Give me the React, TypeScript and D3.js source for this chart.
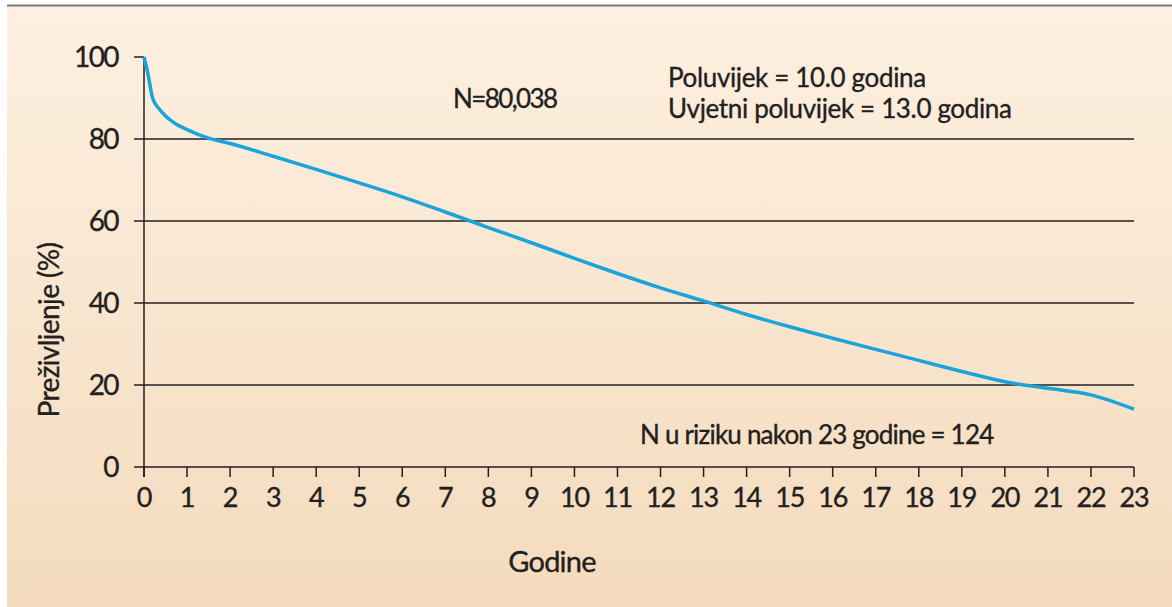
import React from 'react';
import { scaleLinear, line, curveMonotoneX, range } from 'd3';

// survival curve
const years = [0, 0.08, 0.2, 0.35, 0.5, 0.75, 1, 1.5, 2, 3, 4, 5, 6, 7, 8, 9, 10, 11, 12, 13, 14, 15, 16, 17, 18, 19, 20, 21, 22, 23];
const survival = [100, 96.5, 90, 87.4, 85.6, 83.6, 82.3, 80.2, 78.9, 75.8, 72.6, 69.3, 65.9, 62.2, 58.4, 54.7, 50.9, 47.2, 43.7, 40.5, 37.2, 34.2, 31.4, 28.7, 26.0, 23.3, 20.8, 19.2, 17.6, 14.1];

const yTicks = [0, 20, 40, 60, 80, 100];
const xTicks = range(0, 24);

const notes = ['Poluvijek = 10.0 godina', 'Uvjetni poluvijek = 13.0 godina'];
const sampleNote = 'N=80,038';
const riskNote = 'N u riziku nakon 23 godine = 124';

const W = 1172;
const H = 607;
const dims = { left: 144, right: 1134, top: 57, bottom: 467 };
const font = 'Lato, "Open Sans", sans-serif';
const ink = '#231f20';
const txt = { fontFamily: font, fill: ink, stroke: ink, strokeWidth: 0.35 };

export default function App() {
  const x = scaleLinear().domain([0, 23]).range([dims.left, dims.right]);
  const y = scaleLinear().domain([0, 100]).range([dims.bottom, dims.top]);

  const pts = years.map((t, i) => [t, survival[i]] as [number, number]);
  const path = line<[number, number]>()
    .x(d => x(d[0]))
    .y(d => y(d[1]))
    .curve(curveMonotoneX)(pts) || '';

  return (
    <svg width={W} height={H} style={{ position: 'absolute', left: 0, top: 0 }}>
      <defs>
        <linearGradient id="bg" x1="0" y1="0" x2="0" y2="1">
          <stop offset="0" stopColor="#fdf0e1" />
          <stop offset="1" stopColor="#f4dbbd" />
        </linearGradient>
      </defs>
      <rect x={0} y={0} width={W} height={H} fill="#fff" />
      <rect x={7} y={5} width={W - 7} height={H - 5} fill="url(#bg)" />
      <line x1={7} x2={W} y1={5.5} y2={5.5} stroke="#7a7a7a" strokeWidth={2} />

      {/* grid + y ticks */}
      {yTicks.map(v => (
        <g key={v}>
          <line
            x1={dims.left - 10}
            x2={v === 100 ? dims.left : dims.right}
            y1={y(v)}
            y2={y(v)}
            stroke={ink}
            strokeWidth={1.5}
          />
          <text {...txt} x={118} y={y(v)} dy="0.36em" textAnchor="end" fontSize={28} letterSpacing={-1.6}>
            {v}
          </text>
        </g>
      ))}

      {/* y axis */}
      <line x1={dims.left} x2={dims.left} y1={dims.top} y2={dims.bottom + 10} stroke={ink} strokeWidth={1.5} />

      {/* x ticks */}
      {xTicks.map(t => (
        <g key={t}>
          <line x1={x(t)} x2={x(t)} y1={dims.bottom} y2={dims.bottom + 10} stroke={ink} strokeWidth={1.5} />
          <text {...txt} x={x(t)} y={507} textAnchor="middle" fontSize={27} letterSpacing={-1.2}>
            {t}
          </text>
        </g>
      ))}

      <path d={path} fill="none" stroke="#1ba4dc" strokeWidth={3.5} strokeLinejoin="round" />

      <text {...txt} x={453} y={108} fontSize={26} letterSpacing={-1.6}>{sampleNote}</text>
      {notes.map((n, i) => (
        <text {...txt} key={n} x={668} y={87 + i * 31} fontSize={26} letterSpacing={-0.35}>{n}</text>
      ))}
      <text {...txt} x={640} y={444} fontSize={26} letterSpacing={-0.8}>{riskNote}</text>

      <text {...txt} x={552} y={572} textAnchor="middle" fontSize={29} letterSpacing={-0.8}>Godine</text>
      <text
        {...txt}
        transform="translate(59,330) rotate(-90)"
        textAnchor="middle"
        fontSize={28}
        letterSpacing={-0.6}
      >
        Preživljenje (%)
      </text>
    </svg>
  );
}
